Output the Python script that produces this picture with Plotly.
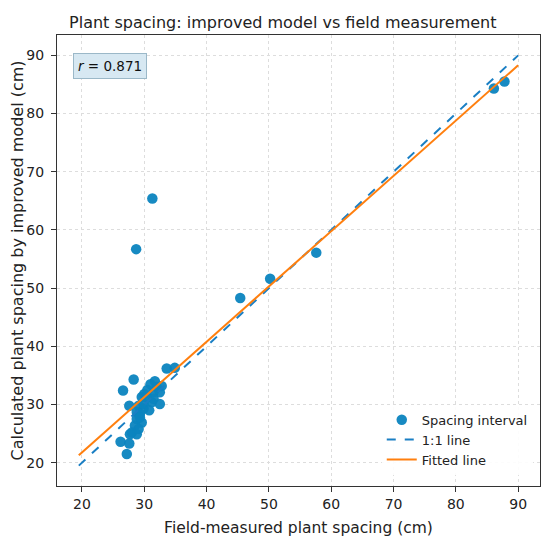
import plotly.graph_objects as go

# field-measured vs model spacing (cm)
field_cm = [31.3, 28.7, 50.2, 57.6, 45.4, 86.1, 87.8,
            26.6, 28.3, 33.6, 34.9, 31.7, 32.0, 31.5, 32.5, 30.4, 29.6,
            31.2, 32.5, 27.6, 29.1, 29.9, 28.8, 29.9, 29.3, 28.8, 29.6,
            28.5, 29.1, 28.0, 28.8, 27.7, 26.2, 27.6, 27.2, 30.5, 31.0,
            32.8, 30.8, 31.5, 30.0, 29.3]
model_cm = [65.4, 56.7, 51.6, 56.1, 48.3, 84.3, 85.5,
            32.4, 34.3, 36.2, 36.3, 34.0, 33.0, 32.1, 32.1, 31.3, 31.3,
            30.4, 30.1, 29.8, 29.8, 29.3, 28.7, 30.1, 28.4, 27.5, 26.9,
            26.4, 25.8, 25.2, 24.9, 24.9, 23.6, 23.3, 21.5, 32.5, 33.5,
            33.2, 29.0, 31.0, 31.8, 27.8]

line_x = [19.5, 90.0]
one_to_one = [19.5, 90.0]
fitted = [21.3, 88.3]
r_value = 0.871

fig = go.Figure()
fig.add_trace(go.Scatter(x=field_cm, y=model_cm, mode="markers", name="Spacing interval",
                         marker=dict(color="#0b84bf", size=10.5, opacity=0.95)))
fig.add_trace(go.Scatter(x=line_x, y=one_to_one, mode="lines", name="1:1 line",
                         line=dict(color="#1a7fc4", width=2, dash="dash")))
fig.add_trace(go.Scatter(x=line_x, y=fitted, mode="lines", name="Fitted line",
                         line=dict(color="#ff7f0e", width=2)))

axis_style = dict(dtick=10, ticks="outside", ticklen=5, tickcolor="#333",
                  showline=True, mirror=True, linecolor="#333", linewidth=1.2,
                  showgrid=True, gridcolor="#dddddd", griddash="dot", zeroline=False,
                  automargin=False, tickfont=dict(size=14, color="#222"))

# page body adds ~8px offset, so the figure is a little smaller than the window
fig.update_layout(
    width=542, height=538,
    margin=dict(l=49, r=10, t=27, b=60),
    paper_bgcolor="white", plot_bgcolor="white",
    font=dict(family="DejaVu Sans", color="#222"),
    title=dict(text="Plant spacing: improved model vs field measurement",
               x=0.507, xanchor="center", y=0.983, yanchor="top", font=dict(size=16)),
    xaxis=dict(range=[16, 93.5], title=dict(text="Field-measured plant spacing (cm)",
                                            font=dict(size=15.5), standoff=11), **axis_style),
    yaxis=dict(range=[16, 93.5], ticklabelstandoff=4,
               title=dict(text="Calculated plant spacing by improved model (cm)",
                          font=dict(size=16), standoff=0), **axis_style),
    legend=dict(x=0.985, y=0.025, xanchor="right", yanchor="bottom",
                bgcolor="rgba(255,255,255,0.9)", borderwidth=0, font=dict(size=13),
                tracegroupgap=0),
    showlegend=True,
)

fig.add_annotation(xref="paper", yref="paper", x=0.033, y=0.96, xanchor="left", yanchor="top",
                   text="<i>r</i> = %.3f" % r_value, showarrow=False,
                   font=dict(size=13.5, color="#111"),
                   bgcolor="#d7e8f2", bordercolor="#9bb8c8", borderwidth=1, borderpad=4)

fig.write_html("out.html")
